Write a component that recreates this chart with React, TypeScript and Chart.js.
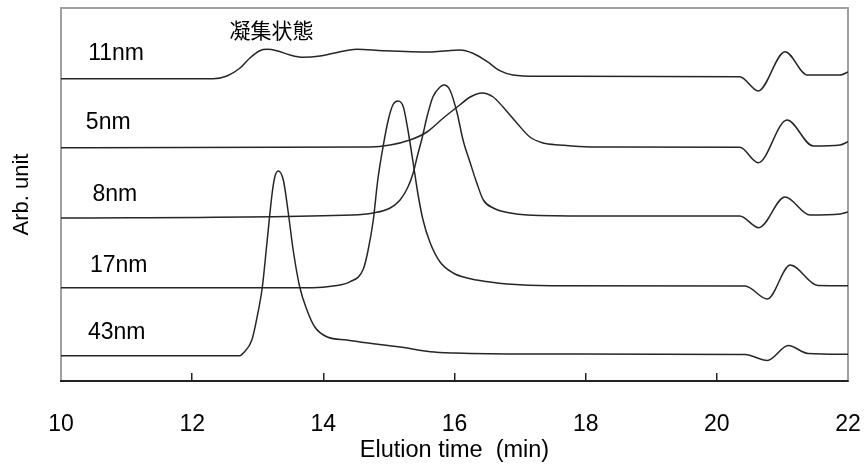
import React, { useEffect, useRef } from 'react';
import { Chart, registerables } from 'chart.js';

Chart.register(...registerables);

// Elution time (min) and signal (arbitrary units, vertically offset traces)
const t11 = [10, 12.32, 12.53, 12.73, 12.88, 13.03, 13.14, 13.29, 13.49, 13.69, 13.95, 14.15, 14.51, 14.91, 15.63, 15.89, 16.08, 16.28, 16.5, 16.69, 16.89, 17.26, 20.35, 20.63, 21.04, 21.38, 21.88, 22];
const v11 = [302.3, 302.3, 305, 313, 323, 330.3, 331.7, 330.3, 326, 323.7, 325, 327.7, 331.7, 330.3, 329, 330.3, 331, 327.7, 319.3, 310.3, 306, 304.7, 304.3, 290, 329.3, 306, 306, 309];

const t5 = [10, 14.71, 15.02, 15.32, 15.58, 15.83, 16.08, 16.24, 16.42, 16.59, 16.74, 16.95, 17.15, 17.35, 17.61, 18.07, 20.35, 20.63, 21.07, 21.47, 21.88, 22];
const v5 = [233.3, 234, 236, 241, 249, 263, 276, 284, 288, 284, 274, 258, 244, 238, 236, 234, 233.7, 218.3, 261, 235, 236, 239.3];

const t8 = [10, 14.45, 14.76, 15.02, 15.17, 15.29, 15.37, 15.43, 15.51, 15.58, 15.67, 15.78, 15.84, 15.93, 16.04, 16.13, 16.24, 16.34, 16.44, 16.59, 16.85, 17.11, 18.07, 20.35, 20.64, 21.04, 21.42, 21.88, 22];
const v8 = [163, 166, 168, 173, 181, 194, 208, 224, 244, 264, 284, 294, 296, 291, 268, 241, 218, 198, 181, 173, 168, 166, 165, 165, 153.3, 184, 166, 167, 169];

const t17 = [10, 13.84, 14.15, 14.41, 14.61, 14.68, 14.76, 14.83, 14.91, 14.99, 15.06, 15.14, 15.22, 15.29, 15.37, 15.44, 15.52, 15.63, 15.78, 15.98, 16.19, 16.54, 16.8, 17.46, 20.43, 20.77, 21.12, 21.54, 22];
const v17 = [93.3, 93.3, 95, 99.3, 112, 130, 160, 201, 234, 261, 276, 280, 274, 251, 218, 188, 161, 138, 119, 108, 103, 99, 97, 95.3, 95, 82, 116, 95.5, 95.3];

const t43 = [10, 12.73, 12.78, 12.91, 12.99, 13.07, 13.14, 13.22, 13.26, 13.31, 13.39, 13.46, 13.54, 13.64, 13.75, 13.87, 14.06, 14.36, 14.56, 15.17, 15.63, 16.01, 17.15, 20.43, 20.77, 21.09, 21.39, 22];
const v43 = [25.3, 25.3, 28, 41, 64, 94, 138, 188, 204, 210, 201, 171, 131, 94, 71, 54, 44, 41, 39, 34, 29.3, 28, 27, 26.5, 20.5, 35.5, 27.5, 26.7];

// Text annotations (data coordinates)
const labelTexts = ['11nm', '5nm', '8nm', '17nm', '43nm', '凝集状態'];
const labelT = [10.84, 10.72, 10.82, 10.88, 10.85, 13.21];
const labelV = [327, 258, 186, 115, 48, 351];

const xTicks = [10, 12, 14, 16, 18, 20, 22];

const FONT = '"Liberation Sans", Arial, sans-serif';
const CJK = '"Noto Sans CJK JP", "Noto Sans CJK SC", sans-serif';
const LINE = '#262626';

const framePlugin = {
  id: 'frame',
  beforeDatasetsDraw(chart: any) {
    const { ctx, chartArea: a } = chart;
    ctx.save();
    ctx.strokeStyle = '#a0a0a0';
    ctx.lineWidth = 2;
    ctx.beginPath();
    ctx.moveTo(a.left, a.bottom - 1);
    ctx.lineTo(a.left, a.top);
    ctx.lineTo(a.right, a.top);
    ctx.lineTo(a.right, a.bottom - 1);
    ctx.stroke();
    ctx.restore();
  },
};

const labelPlugin = {
  id: 'labels',
  afterDraw(chart: any) {
    const { ctx, scales } = chart;
    ctx.save();
    ctx.fillStyle = '#000';
    ctx.textAlign = 'center';
    ctx.textBaseline = 'middle';
    labelTexts.forEach((txt, i) => {
      const isCjk = /[^\x00-\x7f]/.test(txt);
      ctx.font = isCjk ? `21px ${CJK}` : `23px ${FONT}`;
      ctx.fillText(txt, scales.x.getPixelForValue(labelT[i]), scales.y.getPixelForValue(labelV[i]));
    });
    ctx.restore();
  },
};

export default function App() {
  const ref = useRef<HTMLCanvasElement>(null);
  useEffect(() => {
    const canvas = ref.current;
    if (!canvas) return;
    const series = [
      { name: '11nm', t: t11, v: v11 },
      { name: '5nm', t: t5, v: v5 },
      { name: '8nm', t: t8, v: v8 },
      { name: '17nm', t: t17, v: v17 },
      { name: '43nm', t: t43, v: v43 },
    ];
    const chart = new Chart(canvas, {
      type: 'scatter',
      data: {
        datasets: series.map((s) => ({
          label: s.name,
          data: s.t.map((x, i) => ({ x, y: s.v[i] })),
          showLine: true,
          borderColor: LINE,
          borderWidth: 1.5,
          pointRadius: 0,
          pointHoverRadius: 0,
          cubicInterpolationMode: 'monotone' as const,
          fill: false,
        })),
      },
      options: {
        responsive: false,
        animation: false,
        events: [],
        layout: { padding: { left: 0, right: 17, top: 8, bottom: 0 } },
        plugins: { legend: { display: false }, tooltip: { enabled: false } },
        scales: {
          x: {
            type: 'linear',
            min: 10,
            max: 22,
            afterBuildTicks: (scale: any) => {
              scale.ticks = xTicks.map((value) => ({ value }));
            },
            ticks: { color: '#000', font: { family: FONT, size: 23, lineHeight: '104px' }, padding: 0, maxRotation: 0 },
            grid: { drawOnChartArea: false, drawTicks: true, tickLength: -8, color: '#222', lineWidth: 1.5 },
            border: { display: true, color: '#222', width: 2 },
            title: {
              display: true,
              text: 'Elution time  (min)',
              color: '#000',
              font: { family: FONT, size: 23.5 },
              padding: { top: -40.2, bottom: 3 },
            },
          },
          y: {
            type: 'linear',
            min: 0,
            max: 373,
            ticks: { display: false },
            grid: { display: false, drawTicks: false },
            border: { display: false },
            title: {
              display: true,
              text: 'Arb. unit',
              color: '#000',
              font: { family: FONT, size: 22 },
              padding: { top: 9, bottom: 25.6 },
            },
          },
        },
      },
      plugins: [framePlugin, labelPlugin],
    } as any);
    return () => chart.destroy();
  }, []);

  return (
    <div style={{ position: 'fixed', left: 0, top: 0, width: 865, height: 468, background: '#fff', overflow: 'hidden' }}>
      <canvas ref={ref} width={865} height={468} style={{ display: 'block' }} />
    </div>
  );
}
